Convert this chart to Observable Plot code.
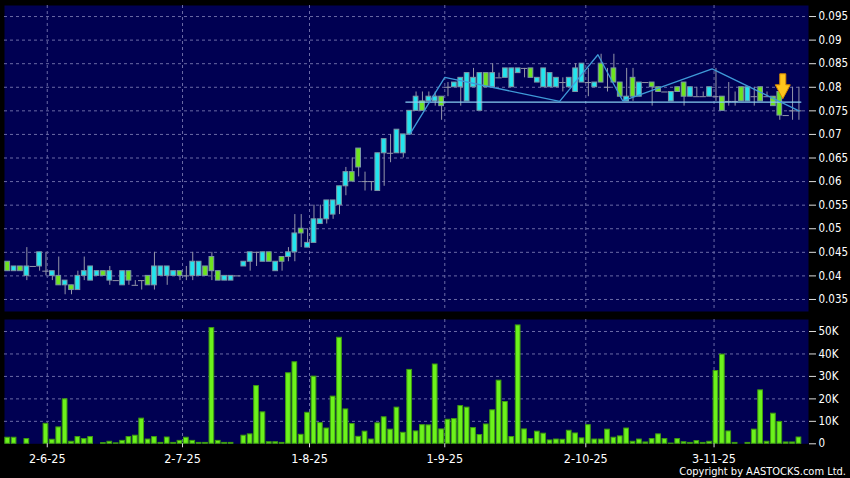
<!DOCTYPE html>
<html><head><meta charset="utf-8">
<script src="https://cdn.jsdelivr.net/npm/d3@7"></script>
<script src="https://cdn.jsdelivr.net/npm/@observablehq/plot@0.6"></script>
<style>
html,body{margin:0;padding:0;background:#000;}
#chart{position:relative;width:850px;height:478px;background:#000;overflow:hidden;font-family:"DejaVu Sans Condensed","DejaVu Sans",sans-serif;}
#price{position:absolute;left:0;top:0;}
#vol{position:absolute;left:0;top:316px;}
#copy{position:absolute;right:4px;top:465px;line-height:13px;color:#fff;font-size:11px;white-space:nowrap;}
</style></head><body>
<div id="chart"><div id="price"></div><div id="vol"></div><div id="copy">Copyright by AASTOCKS.com Ltd.</div></div>
<script>
// ---- data (one entry per trading day, index 0..124) ----
const opens = [
.043,.041,.042,.040,.042,.042,.041,.040,.040,.038,
.038,.037,.040,.039,.040,.041,.039,.039,.038,.041,
.038,.039,.040,.038,.040,.040,.040,.041,.040,.040,
.040,.042,.044,.041,.039,.039,.040,.042,.043,.045,
.043,.045,.041,.044,.044,.045,.050,.046,.047,.051,
.052,.053,.055,.059,.062,.067,.060,.060,.058,.066,
.066,.066,.066,.070,.075,.077,.077,.077,.078,.080,
.080,.080,.077,.080,.075,.083,.080,.082,.082,.080,
.083,.084,.084,.081,.080,.080,.080,.081,.080,.079,
.081,.081,.080,.085,.080,.084,.081,.077,.082,.078,
.081,.081,.080,.079,.077,.080,.081,.078,.078,.078,
.078,.078,.078,.077,.077,.080,.077,.078,.080,.078,
.078,.079,.074,.075,.075];
const highs = [
.043,.042,.042,.046,.042,.045,.045,.041,.044,.039,
.038,.041,.044,.042,.041,.041,.042,.039,.041,.041,
.039,.039,.040,.045,.042,.042,.041,.041,.042,.045,
.043,.042,.045,.041,.040,.040,.040,.043,.045,.045,
.045,.045,.043,.044,.046,.053,.053,.050,.055,.055,
.056,.056,.059,.063,.065,.067,.062,.060,.066,.069,
.070,.071,.070,.075,.079,.079,.079,.079,.078,.081,
.081,.082,.083,.084,.083,.083,.085,.083,.084,.084,
.084,.084,.084,.082,.084,.083,.082,.082,.082,.085,
.085,.084,.081,.087,.084,.087,.081,.084,.084,.081,
.081,.081,.080,.079,.079,.080,.081,.080,.080,.079,
.080,.084,.078,.081,.079,.080,.080,.080,.080,.079,
.078,.079,.074,.080,.080];
const lows = [
.041,.041,.041,.039,.042,.041,.040,.039,.038,.036,
.036,.037,.039,.039,.040,.040,.038,.039,.038,.038,
.038,.037,.038,.037,.040,.038,.040,.039,.039,.039,
.040,.040,.039,.039,.039,.039,.040,.042,.041,.042,
.043,.043,.041,.041,.043,.043,.046,.046,.047,.051,
.051,.052,.053,.057,.060,.061,.058,.058,.058,.059,
.064,.066,.065,.070,.075,.075,.077,.076,.073,.078,
.080,.076,.077,.080,.075,.080,.080,.082,.082,.080,
.083,.082,.082,.081,.080,.080,.080,.079,.080,.079,
.081,.078,.080,.081,.079,.081,.078,.077,.077,.078,
.081,.076,.079,.079,.077,.079,.076,.078,.078,.078,
.078,.077,.075,.076,.076,.077,.077,.076,.077,.078,
.076,.073,.074,.073,.073];
const closes = [
.041,.042,.041,.042,.042,.045,.041,.041,.038,.039,
.037,.040,.041,.042,.041,.040,.041,.039,.041,.039,
.038,.039,.038,.042,.042,.042,.041,.040,.040,.043,
.043,.040,.041,.039,.040,.040,.040,.043,.045,.045,
.045,.043,.043,.043,.045,.049,.049,.047,.052,.052,
.056,.056,.059,.062,.060,.063,.060,.060,.066,.069,
.066,.071,.070,.075,.078,.075,.078,.078,.076,.080,
.081,.082,.083,.082,.083,.080,.083,.082,.084,.084,
.084,.084,.082,.082,.084,.083,.082,.081,.082,.084,
.085,.081,.081,.081,.080,.081,.078,.078,.078,.081,
.081,.080,.079,.079,.079,.079,.078,.080,.078,.078,
.080,.078,.075,.077,.077,.077,.080,.078,.077,.078,
.076,.074,.074,.075,.075];
// volume in thousands of shares
const volumesK = [
2.7,2.7,0,2.1,0,0,8.9,1.8,7.3,19.8,
0.9,3.0,2.1,3.0,0,0.3,0.9,0.2,1.3,3.0,
3.6,11.2,1.9,3.0,0.4,2.8,0.4,1.3,2.7,1.3,
0.4,0.4,51.5,1.3,0.4,0.4,0,3.6,4.2,25.7,
14.0,0.7,0.7,0.4,31.4,36.3,4.0,13.8,29.9,9.2,
6.8,21.0,47.2,15.3,8.8,3.1,5.4,1.9,9.1,11.8,
6.3,16.1,4.9,32.9,5.5,8.3,8.2,35.3,6.4,10.7,
11.0,16.8,16.1,7.0,3.9,8.6,14.9,28.1,18.6,3.0,
52.7,6.4,2.1,5.4,4.5,1.5,1.9,1.8,5.8,4.6,
2.4,8.3,1.9,1.9,6.3,2.7,3.3,6.8,0.9,1.9,
0.6,2.1,4.2,2.1,0.1,2.1,0.7,0.4,1.2,0.4,
0.9,32.4,39.7,5.5,0.4,0,0.4,6.3,23.8,0.9,
13.4,9.7,0.6,0.6,2.8];
const dateTickIndex = [6.2, 27.4, 47.3, 68.5, 90.6, 110.7];
const dateTickLabels = ["2-6-25","2-7-25","1-8-25","1-9-25","2-10-25","3-11-25"];
const priceTicks = [0.035,0.04,0.045,0.05,0.055,0.06,0.065,0.07,0.075,0.08,0.085,0.09,0.095];
const volumeTicksK = [0,10,20,30,40,50];
// pattern lines drawn on the chart
const supportIdx = [62.4, 124.3];
const supportPrice = [0.07685, 0.07685];
const trendIdx = [63, 68.5, 86.5, 92.5, 96.4, 110.4, 124.0];
const trendPrice = [0.070, 0.0821, 0.0770, 0.0869, 0.0771, 0.0839, 0.0750];
const signalIdx = [121];
const signalPrice = [0.0802];

// ---- styles ----
const NAVY = "#000052", GRID = "#6a6aa6", WICK = "#9496a8";
const CYAN = "#22e4ee", GREEN = "#6ee41e", BODY_STROKE = "#7c98a6";
const VOL_FILL = "#6cf21c", VOL_STROKE = "#3f9c10";
const FONT = '"DejaVu Sans Condensed","DejaVu Sans",sans-serif';

const N = opens.length;
const xDomain = [-0.5, N + 0.5];
const candles = d3.range(N).map(i => ({i, o: opens[i], h: highs[i], l: lows[i], c: closes[i]}));
const bodies = candles.filter(d => d.o !== d.c);
const dojis = candles.filter(d => d.o === d.c);
const support = supportIdx.map((x, k) => ({x, y: supportPrice[k]}));
const trend = trendIdx.map((x, k) => ({x, y: trendPrice[k]}));
const signal = signalIdx.map((x, k) => ({x, y: signalPrice[k]}));
const vols = volumesK.map((v, i) => ({i, v})).filter(d => d.v > 0);
const dateLabel = new Map(dateTickIndex.map((d, k) => [d, dateTickLabels[k]]));
const dashed = {stroke: GRID, strokeDasharray: "3,3", strokeWidth: 1};

const arrowSymbol = {
  draw(ctx) {
    ctx.moveTo(-3, -12.5); ctx.lineTo(3, -12.5); ctx.lineTo(3, -1.5);
    ctx.lineTo(7.5, -1.5); ctx.lineTo(0, 12.5); ctx.lineTo(-7.5, -1.5);
    ctx.lineTo(-3, -1.5); ctx.closePath();
  }
};

const price = Plot.plot({
  width: 850, height: 316,
  marginLeft: 4, marginRight: 42, marginTop: 5, marginBottom: 5,
  style: {background: "#000", color: "#fff", fontFamily: FONT, fontSize: "11.5px"},
  x: {domain: xDomain, axis: null},
  y: {domain: [0.03245, 0.09734], axis: null},
  marks: [
    Plot.frame({fill: NAVY, stroke: null}),
    Plot.ruleY(priceTicks, dashed),
    Plot.ruleX(dateTickIndex, dashed),
    Plot.ruleX(candles, {x: "i", y1: "l", y2: "h", stroke: WICK}),
    Plot.ruleY(dojis, {y: "o", x1: d => d.i - 0.5, x2: d => d.i + 0.5, stroke: WICK}),
    Plot.rect(bodies, {x1: d => d.i - 0.37, x2: d => d.i + 0.37, y1: "o", y2: "c",
      fill: d => d.c > d.o ? CYAN : GREEN, stroke: BODY_STROKE}),
    Plot.line(support, {x: "x", y: "y", stroke: "#86cdf2", strokeWidth: 1.3}),
    Plot.line(trend, {x: "x", y: "y", stroke: "#3f9ad8", strokeWidth: 1.3}),
    Plot.dot(signal, {x: "x", y: "y", symbol: arrowSymbol, r: 10, dx: 3,
      fill: "#ffc51c", stroke: "#d98a00", strokeWidth: 1}),
    Plot.axisY(priceTicks, {anchor: "right", label: null, tickSize: 7, tickPadding: 3,
      tickFormat: d => String(+d.toFixed(3)), fill: "#fff", stroke: "#ddd"})
  ]
});
document.getElementById("price").append(price);

const vol = Plot.plot({
  width: 850, height: 162,
  marginLeft: 4, marginRight: 42, marginTop: 3, marginBottom: 34.7,
  style: {background: "#000", color: "#fff", fontFamily: FONT, fontSize: "11.5px"},
  x: {domain: xDomain, axis: null},
  y: {domain: [0, 55.34], axis: null},
  marks: [
    Plot.frame({fill: NAVY, stroke: null}),
    Plot.ruleY(volumeTicksK.filter(v => v > 0), dashed),
    Plot.ruleX(dateTickIndex, dashed),
    Plot.rectY(vols, {x1: d => d.i - 0.37, x2: d => d.i + 0.37, y: "v",
      fill: VOL_FILL, stroke: VOL_STROKE}),
    Plot.axisY(volumeTicksK, {anchor: "right", label: null, tickSize: 7, tickPadding: 3,
      tickFormat: v => v === 0 ? "0" : v + "K", fill: "#fff", stroke: "#ddd"}),
    Plot.axisX(dateTickIndex, {anchor: "bottom", label: null, tickSize: 4, tickPadding: 6,
      tickFormat: d => dateLabel.get(d), fontSize: 12.5, fill: "#fff", stroke: "#ddd"})
  ]
});
document.getElementById("vol").append(vol);
</script>
</body></html>
